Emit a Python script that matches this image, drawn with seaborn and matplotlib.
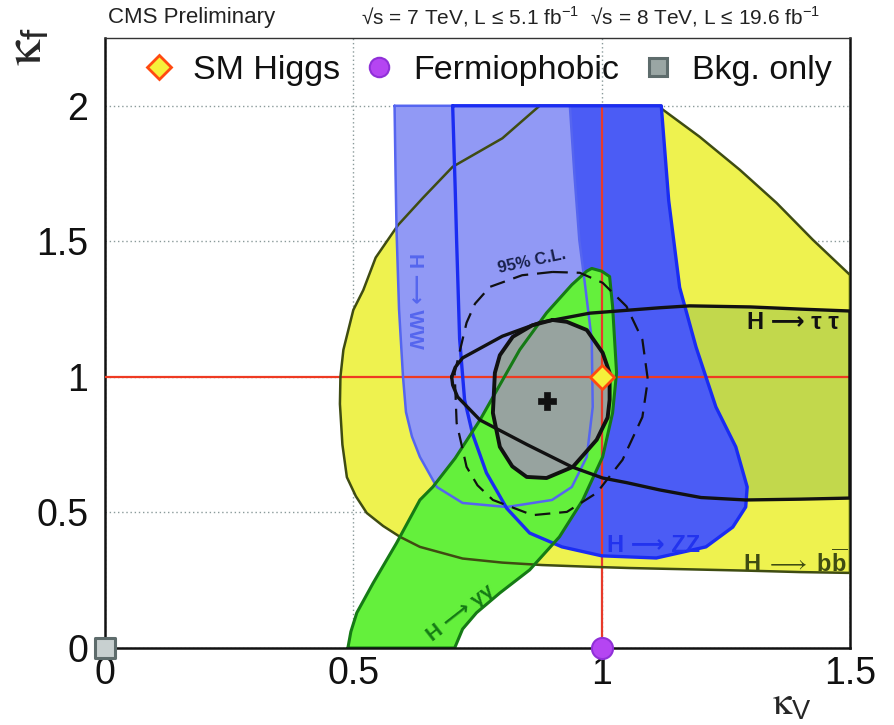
import matplotlib
matplotlib.use("Agg")
import matplotlib.pyplot as plt
from matplotlib.lines import Line2D
import seaborn as sns
import pandas as pd

# ---- contour outlines in the (kappa_V, kappa_f) plane ----
bb_kv = [0.875, 0.80, 0.70, 0.64, 0.59, 0.545, 0.52, 0.50, 0.48, 0.474, 0.473,
         0.478, 0.487, 0.505, 0.527, 0.56, 0.594, 0.634, 0.72, 0.80, 0.88, 0.97,
         1.056, 1.18, 1.30, 1.40, 1.50, 1.50, 1.425, 1.352, 1.278, 1.197, 1.12, 1.12]
bb_kf = [2.00, 1.88, 1.775, 1.66, 1.56, 1.44, 1.32, 1.247, 1.10, 1.00, 0.90,
         0.75, 0.63, 0.56, 0.498, 0.45, 0.41, 0.373, 0.33, 0.315, 0.306, 0.30,
         0.295, 0.29, 0.285, 0.28, 0.277, 1.376, 1.506, 1.642, 1.764, 1.886, 1.99, 2.00]

tt_kv = [0.698, 0.705, 0.72, 0.76, 0.80, 0.875, 0.976, 1.117, 1.177, 1.30, 1.40, 1.50,
         1.50, 1.40, 1.29, 1.20, 1.117, 1.05, 1.002, 0.94, 0.85, 0.755, 0.71, 0.70]
tt_kf = [1.00, 1.035, 1.07, 1.11, 1.15, 1.20, 1.235, 1.255, 1.262, 1.258, 1.25, 1.243,
         0.553, 0.549, 0.546, 0.555, 0.583, 0.61, 0.627, 0.668, 0.75, 0.841, 0.926, 0.97]

ww_kv = [0.583, 0.585, 0.587, 0.592, 0.60, 0.606, 0.618, 0.634, 0.668, 0.72, 0.809,
         0.90, 0.94, 0.97, 0.982, 0.98, 0.966, 0.955, 0.945, 0.936]
ww_kf = [2.00, 1.75, 1.54, 1.25, 1.00, 0.87, 0.78, 0.705, 0.594, 0.535, 0.52,
         0.546, 0.594, 0.705, 0.889, 1.137, 1.347, 1.505, 1.75, 2.00]

zz_kv = [0.70, 0.705, 0.708, 0.714, 0.724, 0.74, 0.768, 0.809, 0.855, 0.92, 1.00,
         1.11, 1.21, 1.264, 1.29, 1.293, 1.27, 1.23, 1.19, 1.157, 1.135, 1.12]
zz_kf = [2.00, 1.70, 1.50, 1.14, 0.915, 0.79, 0.646, 0.515, 0.424, 0.373, 0.34,
         0.332, 0.373, 0.446, 0.52, 0.594, 0.742, 0.889, 1.11, 1.33, 1.65, 2.00]

gg_kv = [0.489, 0.495, 0.507, 0.54, 0.587, 0.634, 0.66, 0.705, 0.755, 0.835, 0.889,
         0.94, 0.97, 0.98, 1.00, 1.016, 1.022, 1.03, 1.022, 1.002, 0.962, 0.915,
         0.855, 0.795, 0.748, 0.72, 0.704]
gg_kf = [0.00, 0.06, 0.13, 0.24, 0.387, 0.546, 0.594, 0.70, 0.841, 1.10, 1.236,
         1.34, 1.39, 1.40, 1.39, 1.37, 1.26, 1.015, 0.867, 0.705, 0.546, 0.41,
         0.288, 0.203, 0.13, 0.07, 0.00]

c68_kv = [0.901, 0.86, 0.821, 0.795, 0.785, 0.781, 0.795, 0.82, 0.849, 0.889, 0.942,
          0.99, 1.012, 1.016, 1.016, 1.002, 0.97, 0.93]
c68_kf = [1.21, 1.19, 1.148, 1.08, 1.015, 0.867, 0.742, 0.67, 0.631, 0.627, 0.668,
          0.768, 0.85, 0.915, 1.015, 1.089, 1.173, 1.203]

c95_kv = [0.901, 0.84, 0.775, 0.745, 0.728, 0.704, 0.708, 0.728, 0.75, 0.781, 0.861,
          0.93, 0.99, 1.042, 1.082, 1.093, 1.082, 1.05, 1.002, 0.956]
c95_kf = [1.387, 1.375, 1.332, 1.27, 1.20, 1.015, 0.83, 0.668, 0.60, 0.546, 0.49,
          0.502, 0.572, 0.694, 0.852, 0.989, 1.137, 1.26, 1.347, 1.384]

# ---- reference points ----
point_names = ["SM Higgs", "Fermiophobic", "Bkg. only"]
point_kv = [1.0, 1.0, 0.0]
point_kf = [1.0, 0.0, 0.0]
best_kv = [0.89]
best_kf = [0.91]

x_ticks = [0, 0.5, 1, 1.5]
y_ticks = [0, 0.5, 1, 1.5, 2]
x_ticklabels = ["0", "0.5", "1", "1.5"]
y_ticklabels = ["0", "0.5", "1", "1.5", "2"]

sns.set_style("white")
plt.rcParams["font.family"] = ["Liberation Sans", "DejaVu Sans"]
plt.rcParams["mathtext.fontset"] = "custom"
plt.rcParams["mathtext.rm"] = "Liberation Sans"
plt.rcParams["mathtext.it"] = "STIXGeneral"
plt.rcParams["mathtext.bf"] = "Liberation Sans:bold"
plt.rcParams["mathtext.fallback"] = "stixsans"

fig = plt.figure(figsize=(8.95, 7.25), dpi=100)
ax = fig.add_axes([105 / 895, 1 - 648 / 725, 745 / 895, 610 / 725])
ax.set_xlim(0, 1.5)
ax.set_ylim(0, 2.25)


def closed(xs, ys):
    return pd.DataFrame({"kv": list(xs) + [xs[0]], "kf": list(ys) + [ys[0]]})


# filled regions
ax.fill(bb_kv, bb_kf, color="#eef24f", lw=0, zorder=1)
ax.fill(tt_kv, tt_kf, color="#c2d84c", lw=0, zorder=2)
ax.fill(zz_kv, zz_kf, color="#4b5cf5", lw=0, zorder=3)
ax.fill(ww_kv, ww_kf, color="#9199f5", lw=0, zorder=4)
ax.fill(gg_kv, gg_kf, color="#64f03c", lw=0, zorder=5)
ax.fill(c68_kv, c68_kf, color="#97a39f", lw=0, zorder=6)

# SM reference lines
ax.axhline(1.0, color="#ee3a22", lw=1.6, zorder=7)
ax.plot([1.0, 1.0], [0.0, 2.0], color="#e83a2a", lw=1.6, zorder=7)

# contour outlines
outlines = [
    (bb_kv, bb_kf, "#3f4c12", 1.8),
    (ww_kv, ww_kf, "#5565f0", 1.8),
    (zz_kv, zz_kf, "#1a2cf2", 2.4),
    (gg_kv, gg_kf, "#157a15", 2.2),
    (tt_kv, tt_kf, "#111111", 2.4),
    (c68_kv, c68_kf, "#111111", 2.8),
]
for xs, ys, col, lw in outlines:
    sns.lineplot(data=closed(xs, ys), x="kv", y="kf", sort=False, estimator=None,
                 color=col, lw=lw, ax=ax, zorder=8, legend=False)
sns.lineplot(data=closed(c95_kv, c95_kf), x="kv", y="kf", sort=False, estimator=None,
             color="#111111", lw=1.6, dashes=(7, 4), ax=ax, zorder=8, legend=False)

# markers
sns.scatterplot(x=[point_kv[0]], y=[point_kf[0]], marker="D", s=150, color="#f6f03a",
                edgecolor="#ff4a10", linewidth=2, ax=ax, zorder=10, clip_on=False)
sns.scatterplot(x=[point_kv[1]], y=[point_kf[1]], marker="o", s=230, color="#b545f2",
                edgecolor="#9030d8", linewidth=1.5, ax=ax, zorder=10, clip_on=False)
sns.scatterplot(x=[point_kv[2]], y=[point_kf[2]], marker="s", s=200, color="#c8d0d0",
                edgecolor="#5e6c6c", linewidth=2.2, ax=ax, zorder=10, clip_on=False)
sns.scatterplot(x=best_kv, y=best_kf, marker="P", s=160, color="#111111",
                edgecolor="#111111", linewidth=0.5, ax=ax, zorder=10)

# region labels
arrow = "\u27f6"
ax.text(0.624, 1.28, f"H {arrow} WW", rotation=-90, color="#5566ee", fontsize=15,
        fontweight="bold", ha="center", va="center", zorder=9)
ax.text(0.86, 1.425, "95% C.L.", rotation=12, color="#18204a", fontsize=12,
        fontweight="bold", ha="center", va="center", zorder=9)
ax.text(1.385, 1.20, f"H {arrow} τ τ", color="#111111", fontsize=17, fontweight="bold",
        ha="center", va="center", zorder=9)
ax.text(1.105, 0.378, f"H {arrow} ZZ", color="#2233ee", fontsize=17, fontweight="bold",
        ha="center", va="center", zorder=9)
ax.text(1.39, 0.313, r"$\mathbf{H}\ \longrightarrow\ \mathbf{b}\overline{\mathbf{b}}$",
        color="#3f4c12", fontsize=17, ha="center", va="center", zorder=9)
ax.text(0.716, 0.13, f"H {arrow} γγ", rotation=38, color="#157a15", fontsize=15,
        fontweight="bold", ha="center", va="center", zorder=9)

# axes styling
ax.set_xticks(x_ticks)
ax.set_xticklabels(x_ticklabels)
ax.set_yticks(y_ticks)
ax.set_yticklabels(y_ticklabels)
ax.set_xticks([0.25, 0.75, 1.25], minor=True)
ax.set_yticks([0.1, 0.2, 0.3, 0.4, 0.6, 0.7, 0.8, 0.9, 1.1, 1.2, 1.3, 1.4,
               1.6, 1.7, 1.8, 1.9, 2.1, 2.2], minor=True)
ax.tick_params(which="major", direction="in", length=15, width=1.5, labelsize=27,
               colors="#111111", pad=6)
ax.tick_params(which="minor", direction="in", length=8, width=1.2, colors="#111111")
ax.tick_params(axis="y", which="major", pad=12)
ax.grid(True, which="major", ls=(0, (1, 2)), color="#8a9a9a", lw=1.0, zorder=0.5)
ax.set_axisbelow(True)
for side in ["left", "bottom", "right"]:
    ax.spines[side].set_color("#111111")
    ax.spines[side].set_linewidth(1.8)
ax.spines["top"].set_color("#333333")
ax.spines["top"].set_linewidth(1.0)
ax.spines["bottom"].set_zorder(9)

ax.set_xlabel(r"$\kappa_{\mathrm{V}}$", fontsize=28, ha="right", va="top")
ax.xaxis.set_label_coords((812 - 105) / 745, (648 - 687) / 610)
ax.set_ylabel(r"$\kappa_{\mathrm{f}}$", fontsize=38, rotation=90)
ax.yaxis.set_label_coords(-0.07, 0.985)

# legend
handles = [
    Line2D([], [], marker="D", ls="none", markersize=12, markerfacecolor="#f6f03a",
           markeredgecolor="#ff4a10", markeredgewidth=2),
    Line2D([], [], marker="o", ls="none", markersize=14, markerfacecolor="#b545f2",
           markeredgecolor="#9030d8", markeredgewidth=1.5),
    Line2D([], [], marker="s", ls="none", markersize=13, markerfacecolor="#9aa6a4",
           markeredgecolor="#5e6c6c", markeredgewidth=2.2),
]
ax.legend(handles, point_names, loc="center", bbox_to_anchor=(0.51, 0.947), ncol=3,
          frameon=False, fontsize=24.5, handletextpad=0.4, columnspacing=0.55,
          handlelength=1.2, labelcolor="#111111")

# header
fig.text(108 / 895, 1 - 17 / 725, "CMS Preliminary", fontsize=16, ha="left",
         va="center", color="#222222")
fig.text(820 / 895, 1 - 17 / 725,
         r"√s = 7 TeV, L ≤ 5.1 fb$^{-1}$  √s = 8 TeV, L ≤ 19.6 fb$^{-1}$",
         fontsize=15, ha="right", va="center", color="#222222")

fig.savefig("out.png", dpi=100)
